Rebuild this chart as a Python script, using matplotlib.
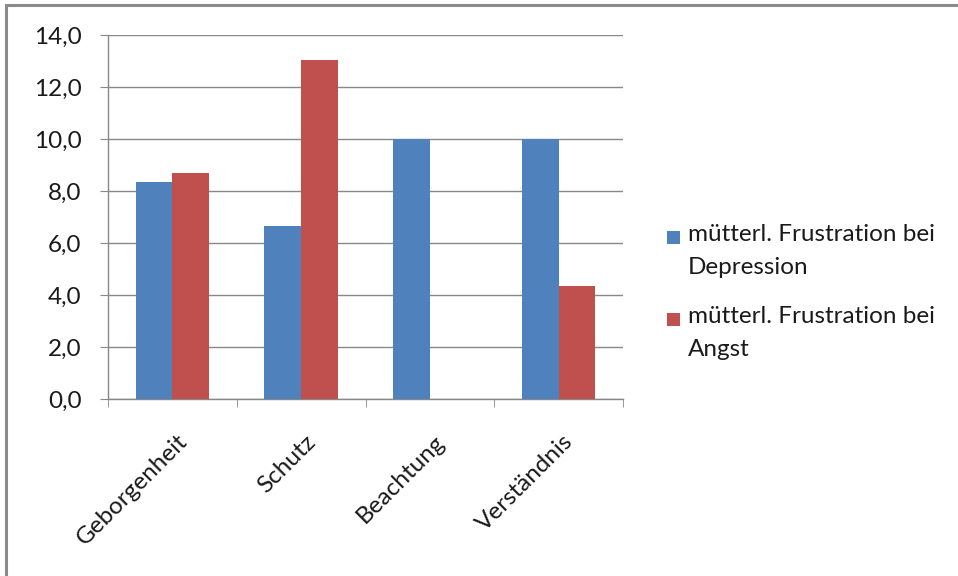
import matplotlib
matplotlib.use("Agg")
import matplotlib.pyplot as plt
from matplotlib.patches import Rectangle
from matplotlib.ticker import FixedLocator, FuncFormatter
from matplotlib.transforms import ScaledTranslation
import numpy as np

categories = ["Geborgenheit", "Schutz", "Beachtung", "Verständnis"]
series_names = ["mütterl. Frustration bei\nDepression", "mütterl. Frustration bei\nAngst"]
depression = [8.33, 6.67, 10.0, 10.0]
angst = [8.70, 13.04, 0.0, 4.35]
y_ticks = [0, 2, 4, 6, 8, 10, 12, 14]

blue = "#4F81BD"
red = "#C0504D"
grid_col = "#888888"
text_col = "#1a1a1a"
FS = 17.5

plt.rcParams["font.family"] = ["Lato", "DejaVu Sans"]

W, H = 958, 576
fig = plt.figure(figsize=(W / 100, H / 100), dpi=100)
fig.patch.set_facecolor("white")

# outer chart frame (top and left edges visible)
fig.add_artist(Rectangle((6 / W, -0.1), 1.2, 1.1 - 5 / H,
                         transform=fig.transFigure, fill=False,
                         edgecolor="#8a8a8a", linewidth=2.2, zorder=10))

ax = fig.add_axes([108 / W, 1 - 399 / H, (623 - 108) / W, (399 - 35) / H])

x = np.arange(len(categories))
w = 1 / 3.5
ax.bar(x - w / 2, depression, width=w, color=blue, zorder=3)
ax.bar(x + w / 2, angst, width=w, color=red, zorder=3)

ax.set_xlim(-0.5, len(categories) - 0.5)
ax.set_ylim(0, 14)
ax.yaxis.set_major_locator(FixedLocator(y_ticks))
ax.yaxis.set_major_formatter(FuncFormatter(lambda v, p: f"{v:.1f}".replace(".", ",")))
ax.grid(axis="y", color=grid_col, linewidth=1.0, zorder=0)
ax.set_axisbelow(True)

for s in ["top", "right"]:
    ax.spines[s].set_visible(False)
for s in ["left", "bottom"]:
    ax.spines[s].set_color(grid_col)
    ax.spines[s].set_linewidth(1.0)

ax.tick_params(axis="y", length=6, color=grid_col, labelsize=FS, pad=13,
               labelcolor=text_col)
ax.set_xticks(x)
ax.set_xticklabels(categories, rotation=45, ha="right", rotation_mode="anchor",
                   fontsize=FS, color=text_col)
ax.tick_params(axis="x", which="major", length=0, pad=23)
shift = ScaledTranslation(4 / 100, 0, fig.dpi_scale_trans)
for lbl in ax.get_xticklabels():
    lbl.set_transform(lbl.get_transform() + shift)
# category boundaries as minor ticks
ax.set_xticks(np.arange(-0.5, len(categories), 1.0), minor=True)
ax.tick_params(axis="x", which="minor", length=6, color=grid_col)

# legend: square marker aligned with the first text line of each entry
legend_rows = [(series_names[0], blue, 237), (series_names[1], red, 319)]
sq = 13
for name, col, yc in legend_rows:
    fig.add_artist(Rectangle((667 / W, 1 - (yc + sq / 2) / H), sq / W, sq / H,
                             transform=fig.transFigure, facecolor=col,
                             edgecolor="none"))
    fig.text(688 / W, 1 - (yc - 13) / H, name, fontsize=FS, color=text_col,
             ha="left", va="top", linespacing=1.68)

fig.savefig("out.png", dpi=100)
